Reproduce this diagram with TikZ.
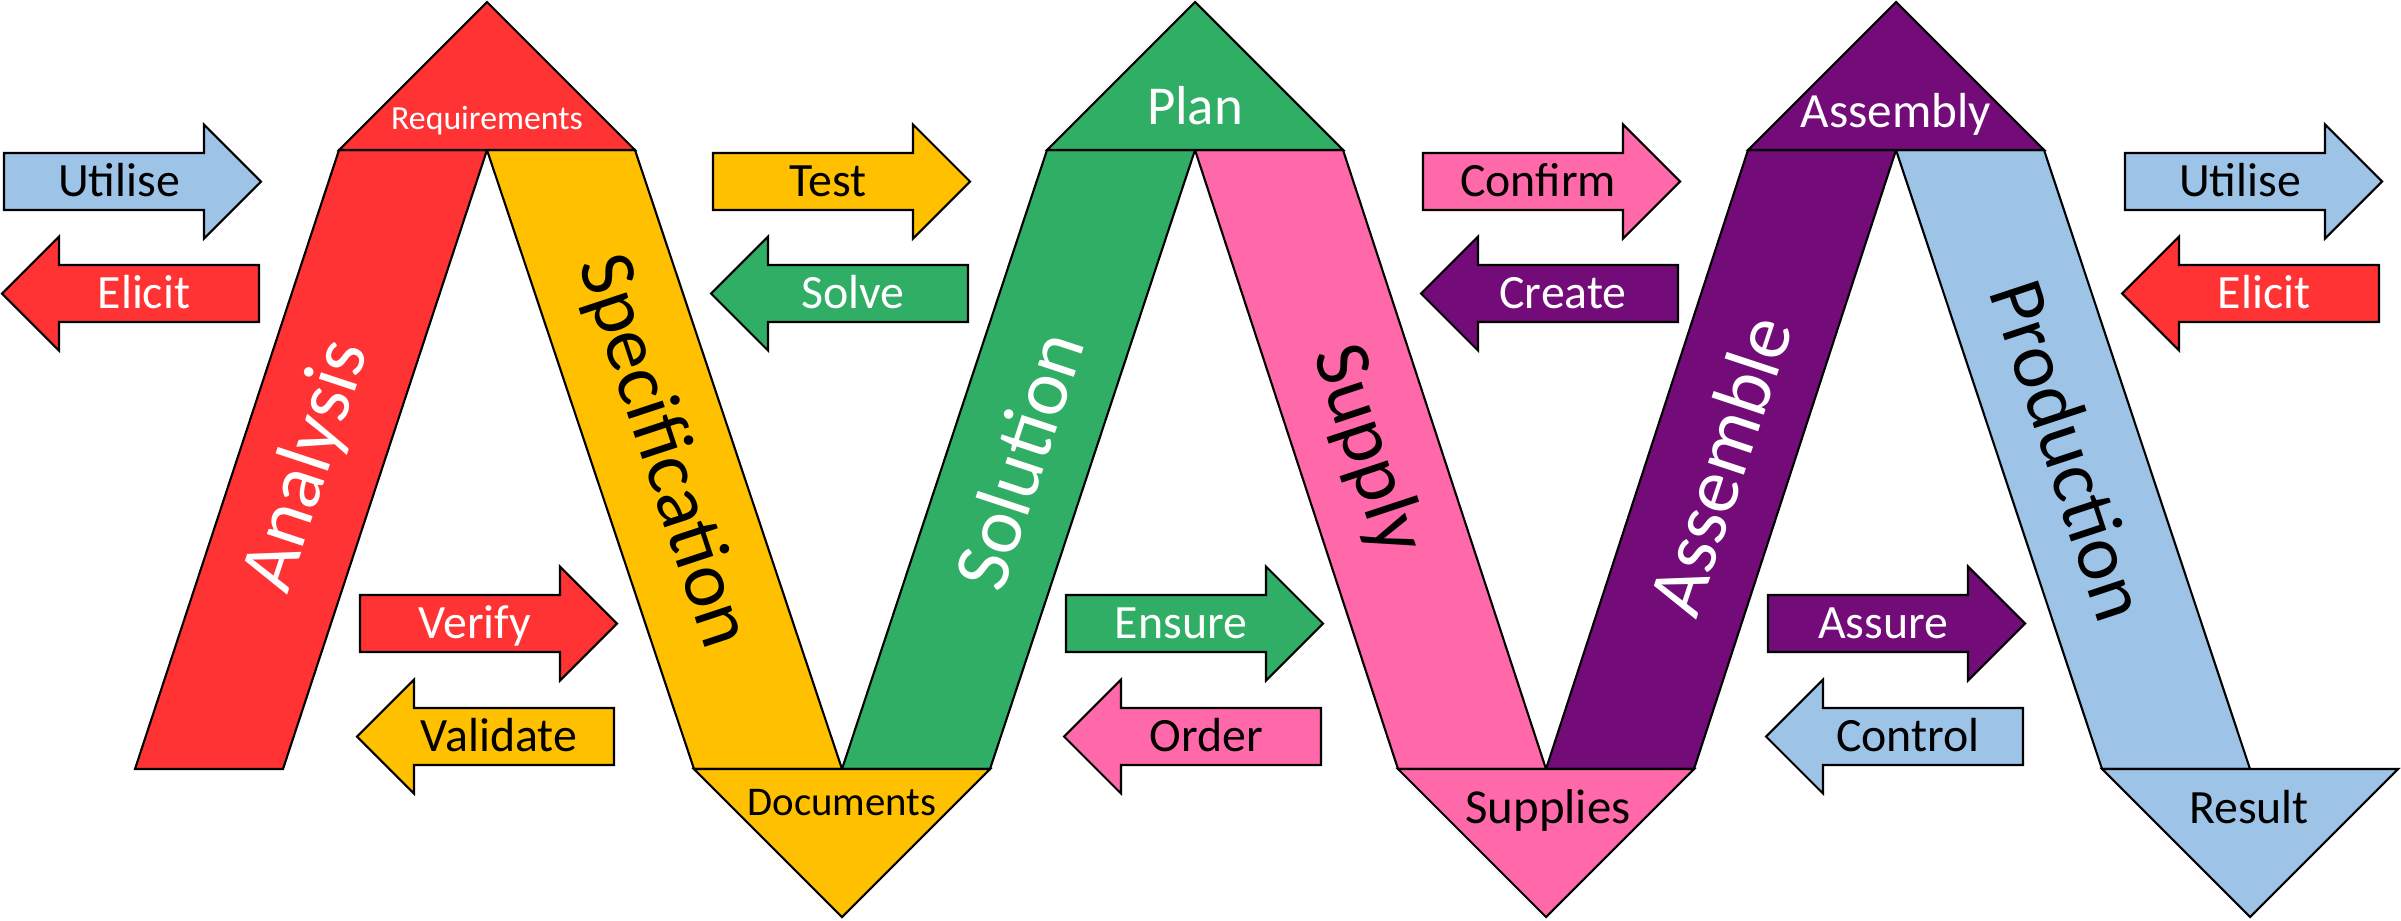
\documentclass[tikz,border=0pt]{standalone}
\usepackage{fontspec}
\setmainfont{Carlito}

\definecolor{cred}{HTML}{FF3333}
\definecolor{cyel}{HTML}{FFC000}
\definecolor{cgrn}{HTML}{31AE66}
\definecolor{cpnk}{HTML}{FF69AA}
\definecolor{cpur}{HTML}{730B79}
\definecolor{cblu}{HTML}{9DC3E6}

\tikzset{
  shapeline/.style={draw=black, line width=0.6pt, line join=miter},
  lbl/.style={font=\fontsize{13.6}{16}\selectfont, anchor=base, inner sep=0pt},
  bandtxt/.style={font=\fontsize{22.5}{27}\selectfont, inner sep=0pt},
}

% block arrow pointing right: name, left x, centre y, fill, text colour, label
\newcommand{\rightblock}[6]{%
  \draw[shapeline, fill=#4] (#2,{#3-28.5}) -- ({#2+200},{#3-28.5}) -- ({#2+200},{#3-57})
    -- ({#2+257},#3) -- ({#2+200},{#3+57}) -- ({#2+200},{#3+28.5}) -- (#2,{#3+28.5}) -- cycle;
  \node[lbl, text=#5] (#1) at ({#2+115},{#3+15}) {#6};
}
% block arrow pointing left: name, right x, centre y, fill, text colour, label
\newcommand{\leftblock}[6]{%
  \draw[shapeline, fill=#4] (#2,{#3-28.5}) -- ({#2-200},{#3-28.5}) -- ({#2-200},{#3-57})
    -- ({#2-257},#3) -- ({#2-200},{#3+57}) -- ({#2-200},{#3+28.5}) -- (#2,{#3+28.5}) -- cycle;
  \node[lbl, text=#5] (#1) at ({#2-115},{#3+15}) {#6};
}

\begin{document}
\begin{tikzpicture}[x=0.01cm, y=-0.01cm]
\useasboundingbox (0,0) rectangle (2401,920);

% slanted bands
\draw[shapeline, fill=cred] (135,769) -- (283,769) -- (487,150) -- (339,150) -- cycle;
\draw[shapeline, fill=cyel] (487,150) -- (635,150) -- (842,769) -- (694,769) -- cycle;
\draw[shapeline, fill=cgrn] (842,769) -- (990,769) -- (1195,150) -- (1047,150) -- cycle;
\draw[shapeline, fill=cpnk] (1195,150) -- (1343,150) -- (1546,769) -- (1398,769) -- cycle;
\draw[shapeline, fill=cpur] (1546,769) -- (1694,769) -- (1896,150) -- (1748,150) -- cycle;
\draw[shapeline, fill=cblu] (1896,150) -- (2044,150) -- (2250,769) -- (2102,769) -- cycle;

% peaks
\draw[shapeline, fill=cred] (339,150) -- (487,2) -- (635,150) -- cycle;
\draw[shapeline, fill=cgrn] (1047,150) -- (1195,2) -- (1343,150) -- cycle;
\draw[shapeline, fill=cpur] (1748,150) -- (1896,2) -- (2044,150) -- cycle;

% valleys
\draw[shapeline, fill=cyel] (694,769) -- (990,769) -- (842,917) -- cycle;
\draw[shapeline, fill=cpnk] (1398,769) -- (1694,769) -- (1546,917) -- cycle;
\draw[shapeline, fill=cblu] (2102,769) -- (2398,769) -- (2250,917) -- cycle;

% peak and valley labels
\node[lbl, text=white, font=\fontsize{9.6}{11}\selectfont] (requirements) at (487,129) {Requirements};
\node[lbl, text=white, font=\fontsize{15.6}{18}\selectfont] (plan) at (1195,124) {Plan};
\node[lbl, text=white, font=\fontsize{14}{17}\selectfont] (assembly) at (1896,127) {Assembly};
\node[lbl, text=black, font=\fontsize{11.6}{14}\selectfont] (documents) at (842,815) {Documents};
\node[lbl, text=black, font=\fontsize{13.9}{16}\selectfont] (supplies) at (1548,823) {Supplies};
\node[lbl, text=black, font=\fontsize{13.6}{16}\selectfont] (result) at (2249,823) {Result};

% band labels
\node[bandtxt, text=white, rotate=71.7] (analysis) at (308,466) {Analysis};
\node[bandtxt, text=black, rotate=-71.7] (specification) at (662,452) {Specification};
\node[bandtxt, text=white, rotate=71.7] (solution) at (1018,460) {Solution};
\node[bandtxt, text=black, rotate=-71.7] (supply) at (1367,450) {Supply};
\node[bandtxt, text=white, rotate=71.7] (assemble) at (1719,465) {Assemble};
\node[bandtxt, text=black, rotate=-71.7] (production) at (2070,450) {Production};

% block arrows, upper rows
\rightblock{utiliseA}{4}{181.5}{cblu}{black}{Utilise}
\rightblock{test}{713}{181.5}{cyel}{black}{Test}
\rightblock{confirm}{1423}{181.5}{cpnk}{black}{Confirm}
\rightblock{utiliseB}{2125}{181.5}{cblu}{black}{Utilise}
\leftblock{elicitA}{259}{293.5}{cred}{white}{Elicit}
\leftblock{solve}{968}{293.5}{cgrn}{white}{Solve}
\leftblock{create}{1678}{293.5}{cpur}{white}{Create}
\leftblock{elicitB}{2379}{293.5}{cred}{white}{Elicit}

% block arrows, lower rows
\rightblock{verify}{360}{623.5}{cred}{white}{Verify}
\rightblock{ensure}{1066}{623.5}{cgrn}{white}{Ensure}
\rightblock{assure}{1768}{623.5}{cpur}{white}{Assure}
\leftblock{validate}{614}{736.5}{cyel}{black}{Validate}
\leftblock{order}{1321}{736.5}{cpnk}{black}{Order}
\leftblock{control}{2023}{736.5}{cblu}{black}{Control}

\end{tikzpicture}
\end{document}
